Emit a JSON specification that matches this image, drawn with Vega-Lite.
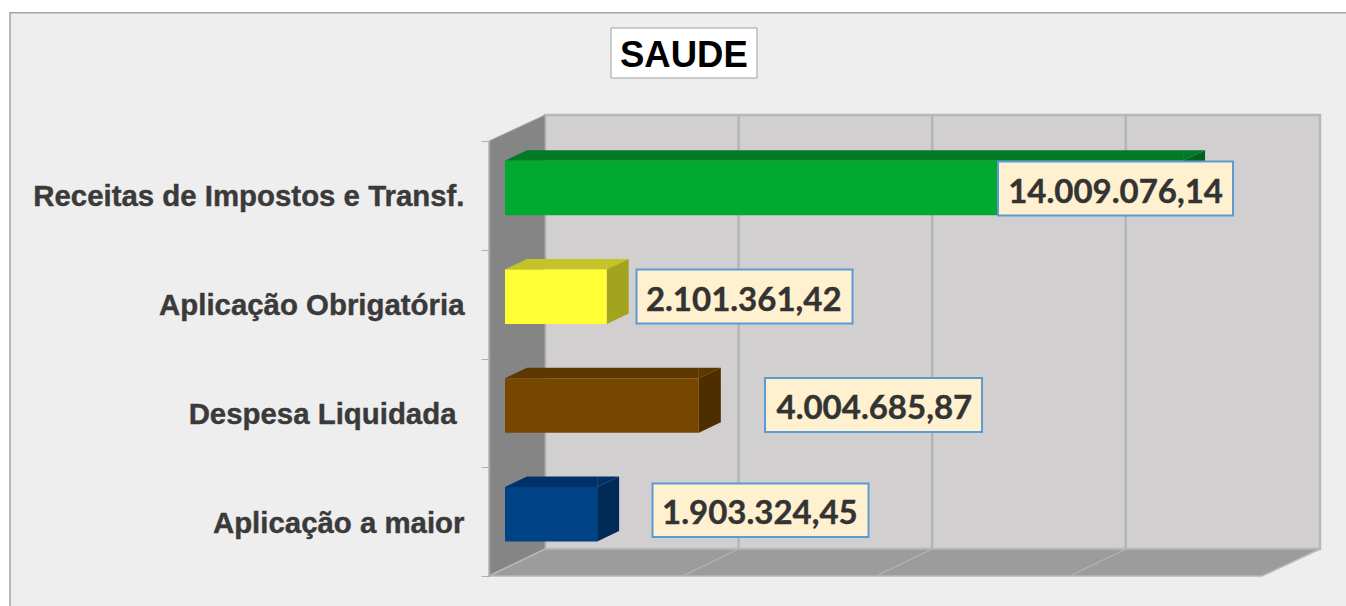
{
"$schema":"https://vega.github.io/schema/vega-lite/v6.json",
"autosize":"none","width":774,"height":435,
"padding":{"left":489,"right":83,"top":141,"bottom":30},
"background":"#ffffff",
"title":{"text":"SAUDE","anchor":"start","frame":"group","dx":131,"offset":-65,"zindex":1,"font":"Liberation Sans","fontSize":36.5,"fontWeight":"bold","color":"#000000"},
"config":{"view":{"stroke":null},"font":"Liberation Sans"},
"data":{"values":[
{"categoria":"Receitas de Impostos e Transf.","valor":14009076.14,"rotulo":"14.009.076,14"},
{"categoria":"Aplicação Obrigatória","valor":2101361.42,"rotulo":"2.101.361,42"},
{"categoria":"Despesa Liquidada","valor":4004685.87,"rotulo":"4.004.685,87"},
{"categoria":"Aplicação a maior","valor":1903324.45,"rotulo":"1.903.324,45"}
]},
"encoding":{
"x":{"field":"valor","type":"quantitative","axis":null,"scale":{"domain":[-330580,15661200],"zero":false,"nice":false}},
"y":{"field":"categoria","type":"nominal","title":null,"sort":["Receitas de Impostos e Transf.","Aplicação Obrigatória","Despesa Liquidada","Aplicação a maior"],
"scale":{"domain":["Receitas de Impostos e Transf.","Aplicação Obrigatória","Despesa Liquidada","Aplicação a maior"],"paddingInner":0,"paddingOuter":0},
"axis":{"zindex":1,"title":null,"tickBand":"extent","tickSize":8,"tickColor":"#b0b0b0","domainColor":"#a8a8a8","domainWidth":1.5,"labelPadding":17,"labelOffset":1.5,"labelLimit":500,"labelFont":"Liberation Sans","labelFontWeight":"bold","labelFontSize":29.4,"labelColor":"#3a3a3a",
"encoding":{"labels":{"stroke":{"value":"#3a3a3a"},"strokeWidth":{"value":0.4},"dx":{"condition":{"test":"datum.value === 'Despesa Liquidada'","value":-8},"value":0}}}}}
},
"layer":[
{"transform":[{"filter":"datum.valor < 2000000"}],
"mark":{"type":"point","filled":true,"opacity":1,"size":4,"fill":"#eeeeee","stroke":"#a3a3a3","strokeWidth":1.5,"shape":"M-495,-509 L843,-509 L843,87 L-495,87 Z"},
"encoding":{"x":{"datum":0}}},
{"transform":[{"filter":"datum.valor < 2000000"}],
"mark":{"type":"point","filled":true,"opacity":1,"size":4,"fill":"#d1cfd0","stroke":"#b8b8b8","strokeWidth":2.5,"shape":"M40,-406.6 L815,-406.6 L815,27.4 L40,27.4 Z"},
"encoding":{"x":{"datum":0}}},
{"transform":[{"filter":"datum.valor < 2000000"}],
"mark":{"type":"point","filled":true,"opacity":1,"size":4,"fill":"#858585","stroke":"#a8a8a8","strokeWidth":1,"shape":"M-16,-380.6 L40,-406.6 L40,27.4 L-16,54.4 Z"},
"encoding":{"x":{"datum":0}}},
{"transform":[{"filter":"datum.valor < 2000000"}],
"mark":{"type":"point","filled":true,"opacity":1,"size":4,"fill":"#9c9c9c","stroke":"#b8b8b8","strokeWidth":1.5,"shape":"M-16,54.4 L40,27.4 L815,27.4 L757,54.4 Z"},
"encoding":{"x":{"datum":0}}},
{"data":{"values":[{"marca":4000000},{"marca":8000000},{"marca":12000000}]},
"mark":{"type":"point","filled":false,"opacity":1,"size":4,"stroke":"#b5b5b5","strokeWidth":2.5,"shape":"M40,-406.6 L40,27.4"},
"encoding":{"x":{"field":"marca","type":"quantitative"},"y":{"datum":"Aplicação a maior"}}},
{"data":{"values":[{"marca":4000000},{"marca":8000000},{"marca":12000000}]},
"mark":{"type":"point","filled":false,"opacity":1,"size":4,"stroke":"#b5b5b5","strokeWidth":1.2,"shape":"M40,27.4 L-16,54.4"},
"encoding":{"x":{"field":"marca","type":"quantitative"},"y":{"datum":"Aplicação a maior"}}},
{"mark":{"type":"bar","height":10.5,"yOffset":-40,"x2Offset":22},
"encoding":{"color":{"field":"categoria","type":"nominal","legend":null,"scale":{"domain":["Receitas de Impostos e Transf.","Aplicação Obrigatória","Despesa Liquidada","Aplicação a maior"],"range":["#007a25","#c4c428","#5c3700","#003268"]}},"x2":{"datum":0}}},
{"mark":{"type":"point","filled":true,"opacity":1,"size":4,"shape":"M0,-34.75 L22,-45.25 L22,-34.75 Z"},
"encoding":{"x":{"datum":0},"color":{"field":"categoria","type":"nominal","legend":null,"scale":{"domain":["Receitas de Impostos e Transf.","Aplicação Obrigatória","Despesa Liquidada","Aplicação a maior"],"range":["#007a25","#c4c428","#5c3700","#003268"]}}}},
{"mark":{"type":"point","filled":true,"opacity":1,"size":4,"shape":"M0,-34.75 L22,-45.25 L0,-45.25 Z"},
"encoding":{"color":{"field":"categoria","type":"nominal","legend":null,"scale":{"domain":["Receitas de Impostos e Transf.","Aplicação Obrigatória","Despesa Liquidada","Aplicação a maior"],"range":["#007a25","#c4c428","#5c3700","#003268"]}}}},
{"mark":{"type":"point","filled":true,"opacity":1,"size":4,"shape":"M0,-34.75 L22,-45.25 L22,9.25 L0,19.75 Z"},
"encoding":{"color":{"field":"categoria","type":"nominal","legend":null,"scale":{"domain":["Receitas de Impostos e Transf.","Aplicação Obrigatória","Despesa Liquidada","Aplicação a maior"],"range":["#00601e","#a3a31f","#4d2e00","#002a58"]}}}},
{"mark":{"type":"bar","height":54.5,"yOffset":-7.5},
"encoding":{"color":{"field":"categoria","type":"nominal","legend":null,"scale":{"domain":["Receitas de Impostos e Transf.","Aplicação Obrigatória","Despesa Liquidada","Aplicação a maior"],"range":["#00aa30","#ffff33","#774700","#004286"]}},"x2":{"datum":0}}},
{"mark":{"type":"point","filled":true,"opacity":1,"size":4,"fill":"#fff1cf","stroke":"#5b9bd5","strokeWidth":2},
"encoding":{"shape":{"field":"categoria","type":"nominal","legend":null,"scale":{"domain":["Receitas de Impostos e Transf.","Aplicação Obrigatória","Despesa Liquidada","Aplicação a maior"],"range":["M-185,-33.9 L50,-33.9 L50,20.1 L-185,20.1 Z","M29.8,-34.6 L245.8,-34.6 L245.8,19.4 L29.8,19.4 Z","M66.2,-34.9 L283.2,-34.9 L283.2,19.1 L66.2,19.1 Z","M55.4,-38.1 L271.4,-38.1 L271.4,15.4 L55.4,15.4 Z"]}}}},
{"transform":[{"filter":"datum.valor > 10000000"}],"mark":{"type":"text","font":"Lato","fontWeight":"bold","fontSize":33,"stroke":"#333333","strokeWidth":0.4,"color":"#333333","align":"center","baseline":"middle","dx":-67.5,"dy":-2},"encoding":{"text":{"field":"rotulo"}}},
{"transform":[{"filter":"datum.valor > 2000000 && datum.valor < 3000000"}],"mark":{"type":"text","font":"Lato","fontWeight":"bold","fontSize":33,"stroke":"#333333","strokeWidth":0.4,"color":"#333333","align":"center","baseline":"middle","dx":137,"dy":-3},"encoding":{"text":{"field":"rotulo"}}},
{"transform":[{"filter":"datum.valor > 4000000 && datum.valor < 5000000"}],"mark":{"type":"text","font":"Lato","fontWeight":"bold","fontSize":33,"stroke":"#333333","strokeWidth":0.4,"color":"#333333","align":"center","baseline":"middle","dx":175.5,"dy":-3.4},"encoding":{"text":{"field":"rotulo"}}},
{"transform":[{"filter":"datum.valor < 2000000"}],"mark":{"type":"text","font":"Lato","fontWeight":"bold","fontSize":33,"stroke":"#333333","strokeWidth":0.4,"color":"#333333","align":"center","baseline":"middle","dx":162.8,"dy":-7.4},"encoding":{"text":{"field":"rotulo"}}},
{"transform":[{"filter":"datum.valor < 2000000"}],
"mark":{"type":"point","filled":true,"opacity":1,"size":4,"fill":"#ffffff","stroke":"#a0a0a0","strokeWidth":1,"shape":"M106,-493.6 L252,-493.6 L252,-443.6 L106,-443.6 Z"},
"encoding":{"x":{"datum":0}}}
],
"resolve":{"scale":{"color":"independent"}}
}
